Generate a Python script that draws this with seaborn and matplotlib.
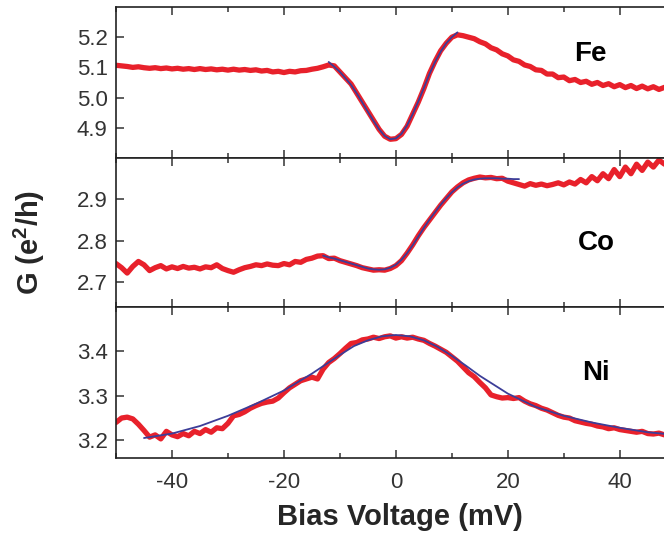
import matplotlib
matplotlib.use('Agg')
import matplotlib.pyplot as plt
import matplotlib.ticker as ticker
import seaborn as sns

# bias voltage grid (mV) for the measured curves
bias = list(range(-50, 51))

# measured conductance, Fe
fe_g = [5.107, 5.105, 5.103, 5.100, 5.102, 5.099, 5.097, 5.099, 5.096, 5.098,
        5.095, 5.097, 5.094, 5.096, 5.093, 5.096, 5.093, 5.095, 5.092, 5.094,
        5.091, 5.094, 5.091, 5.093, 5.090, 5.092, 5.088, 5.090, 5.085, 5.087,
        5.083, 5.087, 5.085, 5.089, 5.090, 5.094, 5.097, 5.102, 5.108, 5.105,
        5.085, 5.065, 5.045, 5.015, 4.985, 4.955, 4.925, 4.895, 4.872, 4.862,
        4.864, 4.878, 4.905, 4.945, 4.985, 5.030, 5.080, 5.120, 5.155, 5.180,
        5.200, 5.208, 5.205, 5.200, 5.195, 5.185, 5.178, 5.165, 5.158, 5.145,
        5.138, 5.125, 5.120, 5.108, 5.103, 5.092, 5.090, 5.078, 5.078, 5.066,
        5.068, 5.056, 5.060, 5.050, 5.054, 5.044, 5.050, 5.040, 5.046, 5.036,
        5.043, 5.033, 5.040, 5.030, 5.038, 5.029, 5.036, 5.027, 5.034, 5.026,
        5.032]

# measured conductance, Co
co_g = [2.745, 2.735, 2.722, 2.738, 2.750, 2.742, 2.728, 2.735, 2.740, 2.732,
        2.737, 2.733, 2.738, 2.734, 2.736, 2.732, 2.737, 2.735, 2.742, 2.733,
        2.728, 2.724, 2.730, 2.735, 2.738, 2.742, 2.740, 2.744, 2.741, 2.740,
        2.745, 2.742, 2.750, 2.748, 2.755, 2.758, 2.763, 2.764, 2.757, 2.758,
        2.752, 2.748, 2.744, 2.740, 2.735, 2.732, 2.729, 2.730, 2.729, 2.733,
        2.740, 2.752, 2.770, 2.790, 2.812, 2.832, 2.850, 2.868, 2.886, 2.902,
        2.918, 2.930, 2.940, 2.947, 2.951, 2.954, 2.952, 2.953, 2.950, 2.951,
        2.944, 2.940, 2.936, 2.932, 2.938, 2.934, 2.937, 2.933, 2.936, 2.940,
        2.935, 2.942, 2.937, 2.948, 2.940, 2.955, 2.945, 2.962, 2.950, 2.972,
        2.955, 2.978, 2.962, 2.985, 2.970, 2.990, 2.978, 2.995, 2.985, 3.000,
        2.990]

# measured conductance, Ni
ni_g = [3.240, 3.250, 3.252, 3.248, 3.236, 3.222, 3.207, 3.212, 3.203, 3.220,
        3.212, 3.208, 3.215, 3.210, 3.220, 3.215, 3.224, 3.218, 3.228, 3.226,
        3.238, 3.255, 3.258, 3.264, 3.272, 3.278, 3.283, 3.286, 3.288, 3.295,
        3.307, 3.318, 3.326, 3.334, 3.338, 3.342, 3.338, 3.360, 3.375, 3.384,
        3.395, 3.407, 3.418, 3.420, 3.426, 3.428, 3.432, 3.429, 3.433, 3.435,
        3.430, 3.433, 3.430, 3.432, 3.428, 3.425, 3.418, 3.412, 3.405, 3.398,
        3.388, 3.378, 3.365, 3.352, 3.343, 3.330, 3.318, 3.302, 3.298, 3.295,
        3.296, 3.294, 3.296, 3.288, 3.282, 3.278, 3.272, 3.268, 3.262, 3.256,
        3.252, 3.250, 3.244, 3.241, 3.238, 3.236, 3.232, 3.230, 3.226, 3.228,
        3.224, 3.222, 3.220, 3.218, 3.220, 3.215, 3.214, 3.216, 3.212, 3.213,
        3.210]

# fitted curves
fe_fit_v = list(range(-12, 12))
fe_fit_g = [5.118, 5.102, 5.085, 5.064, 5.042, 5.014, 4.984, 4.953, 4.923, 4.895,
            4.873, 4.862, 4.865, 4.880, 4.908, 4.945, 4.987, 5.032, 5.078, 5.118,
            5.152, 5.180, 5.200, 5.216]

co_fit_v = list(range(-13, 23))
co_fit_g = [2.764, 2.760, 2.757, 2.753, 2.749, 2.745, 2.741, 2.737, 2.733, 2.731,
            2.730, 2.731, 2.735, 2.742, 2.754, 2.770, 2.789, 2.810, 2.831, 2.851,
            2.869, 2.887, 2.903, 2.917, 2.929, 2.938, 2.944, 2.948, 2.950, 2.951,
            2.951, 2.951, 2.950, 2.950, 2.949, 2.949]

ni_fit_v = [-45, -40, -35, -30, -25, -20, -15, -10, -7.5, -5, -2.5, 0,
            2.5, 5, 7.5, 10, 12.5, 15, 20, 25, 30, 35, 40, 45, 50]
ni_fit_g = [3.205, 3.215, 3.232, 3.255, 3.282, 3.312, 3.350, 3.392, 3.412, 3.425,
            3.434, 3.437, 3.434, 3.425, 3.410, 3.390, 3.368, 3.345, 3.305, 3.275,
            3.255, 3.240, 3.228, 3.218, 3.212]

metals = ['Fe', 'Co', 'Ni']
ylims = [(4.80, 5.30), (2.64, 3.00), (3.16, 3.50)]
yticks = [[4.9, 5.0, 5.1, 5.2], [2.7, 2.8, 2.9], [3.2, 3.3, 3.4]]
label_x = [34.7, 35.9, 35.7]
label_y = [5.143, 2.795, 3.352]

sns.set_style('ticks')
plt.rcParams['font.family'] = ['Liberation Sans', 'DejaVu Sans']
plt.rcParams['axes.unicode_minus'] = False
plt.rcParams['mathtext.fontset'] = 'custom'
plt.rcParams['mathtext.rm'] = 'Liberation Sans'
plt.rcParams['mathtext.bf'] = 'Liberation Sans:bold'

fig = plt.figure(figsize=(6.64, 5.39), dpi=100)

# panel rectangles (axes run a bit past the right edge, like the cropped original)
boxes = [[0.1747, 0.7069, 0.843, 0.2801],
         [0.1747, 0.4304, 0.843, 0.2765],
         [0.1747, 0.1503, 0.843, 0.2801]]

data = [(fe_g, fe_fit_v, fe_fit_g), (co_g, co_fit_v, co_fit_g), (ni_g, ni_fit_v, ni_fit_g)]

for i, (g, fv, fg) in enumerate(data):
    ax = fig.add_axes(boxes[i])
    sns.lineplot(x=bias, y=g, ax=ax, color='#e8212b', linewidth=3.8)
    sns.lineplot(x=fv, y=fg, ax=ax, color='#3c3d98', linewidth=1.3)
    ax.set_xlim(-50, 50)
    ax.set_ylim(*ylims[i])
    ax.set_yticks(yticks[i])
    ax.set_yticklabels([f'{t:.1f}' for t in yticks[i]])
    ax.xaxis.set_major_locator(ticker.MultipleLocator(20))
    ax.xaxis.set_minor_locator(ticker.MultipleLocator(10))
    ax.tick_params(which='both', direction='in', top=True, right=True,
                   labelsize=16, colors='#333333', width=1.1, pad=6)
    ax.tick_params(axis='x', pad=10)
    ax.tick_params(which='major', length=6)
    ax.tick_params(which='minor', length=3.5)
    for s in ax.spines.values():
        s.set_color('#222222')
        s.set_linewidth(1.2)
    ax.set_xlabel('')
    ax.set_ylabel('')
    if i < 2:
        ax.tick_params(labelbottom=False)
    ax.text(label_x[i], label_y[i], metals[i], fontsize=20, fontweight='bold',
            ha='center', va='center', color='black')

fig.text(0.603, 0.04, 'Bias Voltage (mV)', fontsize=21, fontweight='bold',
         ha='center', va='center')
fig.text(0.045, 0.55, r'G (e$^\mathregular{2}$/h)', fontsize=21, fontweight='bold',
         rotation=90, ha='center', va='center')

fig.savefig('out.png', dpi=100)
